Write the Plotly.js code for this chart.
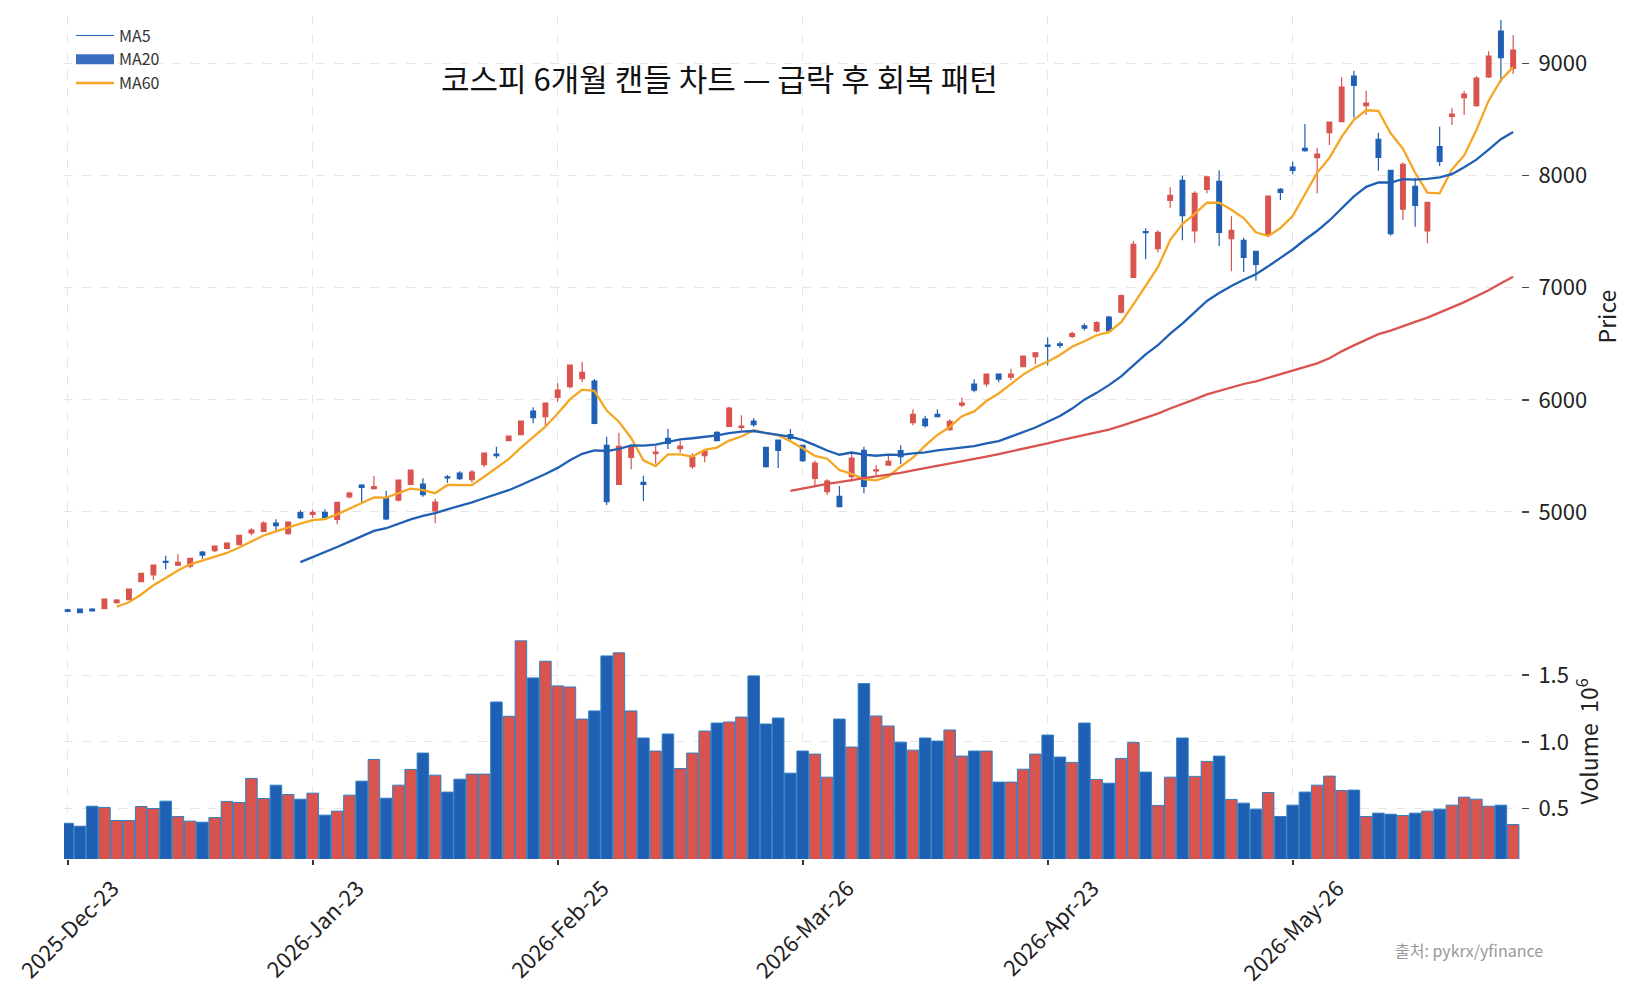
<!DOCTYPE html>
<html><head><meta charset="utf-8">
<script src="https://cdn.plot.ly/plotly-3.0.1.min.js"></script>
<style>html,body{margin:0;padding:0;background:#fff}</style>
</head><body>
<div id="chart" style="width:1632px;height:999px"></div>
<script>
// ---- data ----
const tickIndex = [0, 20, 40, 60, 80, 100];
const tickLabels = ["2025-Dec-23", "2026-Jan-23", "2026-Feb-25", "2026-Mar-26", "2026-Apr-23", "2026-May-26"];

const openP = [4127,4133,4133,4136,4190,4217,4377,4437,4560,4526,
 4517,4642,4654,4675,4707,4812,4827,4901,4806,4993,
 4978,4996,4934,5135,5240,5207,5124,5106,5246,5249,
 5008,5312,5347,5287,5421,5516,5635,5689,5900,5849,
 6022,6117,6188,6168,5594,5246,5487,5264,5519,5656,
 5564,5403,5501,5710,5763,5755,5811,5576,5641,5690,
 5594,5300,5180,5139,5314,5549,5365,5418,5546,5796,
 5829,5871,5733,5953,6141,6141,6230,6203,6295,6384,
 6489,6500,6565,6660,6614,6738,6783,7093,7500,7348,
 7780,7958,7508,7878,7949,7437,7423,7325,7476,7878,
 8077,8243,8160,8383,8481,8888,8624,8324,8047,7700,
 7904,7506,8260,8529,8695,8624,8880,9290,8957];
const highP = [4137,4138,4140,4226,4223,4316,4456,4530,4609,4622,
 4590,4654,4700,4726,4795,4854,4916,4934,4914,5014,
 5019,5023,5090,5180,5246,5320,5189,5288,5378,5300,
 5118,5329,5362,5374,5529,5581,5681,5815,5933,5975,
 6147,6314,6340,6185,5671,5707,5592,5323,5588,5742,
 5635,5523,5547,5719,5936,5862,5838,5580,5645,5740,
 5598,5457,5291,5231,5516,5581,5416,5505,5594,5915,
 5858,5915,5826,6019,6183,6234,6234,6277,6395,6424,
 6558,6520,6610,6680,6700,6750,6940,7417,7530,7512,
 7896,7999,7860,7997,8047,7637,7446,7329,7822,7890,
 8124,8460,8249,8482,8877,8936,8757,8383,8051,8119,
 7981,7766,8436,8600,8755,8889,9109,9388,9254];
const lowP = [4107,4097,4112,4133,4184,4213,4373,4392,4487,4517,
 4497,4582,4642,4666,4703,4791,4818,4818,4796,4937,
 4945,4939,4889,5121,5070,5201,4928,5094,5242,5135,
 4898,5260,5284,5260,5398,5478,5631,5685,5790,5769,
 5983,6102,6156,5781,5061,5240,5380,5097,5430,5561,
 5528,5385,5442,5632,5759,5728,5760,5397,5391,5630,
 5445,5225,5151,5042,5269,5166,5323,5412,5427,5772,
 5754,5845,5724,5933,6067,6117,6156,6177,6291,6319,
 6308,6460,6550,6620,6600,6600,6770,7089,7253,7316,
 7714,7423,7401,7842,7372,7146,7140,7062,7472,7782,
 8012,8213,7842,8273,8477,8517,8541,8044,7464,7604,
 7544,7396,8086,8451,8541,8615,8871,8832,8906];
const closeP = [4113,4101,4118,4223,4214,4312,4452,4526,4550,4550,
 4586,4615,4696,4722,4791,4838,4901,4877,4910,4948,
 4996,4952,5086,5168,5219,5225,4937,5284,5374,5153,
 5088,5303,5296,5356,5525,5501,5677,5811,5840,5971,
 6087,6310,6245,5790,5091,5585,5588,5246,5534,5612,
 5588,5490,5543,5635,5927,5766,5778,5403,5549,5656,
 5457,5436,5275,5046,5481,5228,5376,5451,5492,5871,
 5769,5849,5808,5971,6087,6230,6185,6230,6391,6420,
 6477,6486,6590,6640,6688,6614,6930,7387,7491,7494,
 7824,7642,7842,7988,7494,7512,7271,7209,7818,7851,
 8047,8222,8193,8478,8790,8806,8648,8163,7482,8101,
 7735,7762,8128,8549,8728,8871,9067,9052,9120];
const volume = [389000,367000,517000,508000,410000,410000,515000,500000,555000,440000,
 405000,397000,432000,553000,545000,726000,575000,675000,605000,570000,
 615000,450000,480000,600000,705000,868000,577000,675000,793000,916000,
 750000,623000,720000,758000,758000,1299000,1192000,1758000,1480000,1605000,
 1420000,1412000,1171000,1232000,1645000,1668000,1232000,1029000,931000,1059000,
 800000,916000,1081000,1141000,1149000,1186000,1495000,1134000,1179000,765000,
 931000,908000,735000,1171000,961000,1437000,1194000,1119000,998000,938000,
 1029000,1006000,1089000,893000,931000,931000,698000,698000,795000,908000,
 1051000,886000,846000,1141000,718000,690000,876000,996000,773000,523000,
 735000,1029000,741000,853000,893000,568000,540000,495000,620000,440000,
 525000,623000,675000,743000,635000,638000,440000,465000,457000,447000,
 465000,480000,495000,525000,585000,570000,517000,525000,380000];

const maWindows = [5, 20, 60];
const title = "코스피 6개월 캔들 차트 — 급락 후 회복 패턴";
const sourceText = "출처: pykrx/yfinance";

// ---- styling ----
const UP = '#d9534f', DOWN = '#1f5fb4', ORANGE = '#f5a623';
const FONT = '"Noto Sans CJK KR", "Noto Sans", sans-serif';

const idx = closeP.map((_, i) => i);
function movingAverage(arr, n) {
  return arr.map((_, i) => {
    if (i < n - 1) return null;
    let s = 0;
    for (let k = i - n + 1; k <= i; k++) s += arr[k];
    return s / n;
  });
}
const ma5 = movingAverage(closeP, maWindows[0]);
const ma20 = movingAverage(closeP, maWindows[1]);
const ma60 = movingAverage(closeP, maWindows[2]);
const volColors = closeP.map((c, i) => c >= openP[i] ? UP : DOWN);

const traces = [
  {type: 'candlestick', x: idx, open: openP, high: highP, low: lowP, close: closeP,
   xaxis: 'x', yaxis: 'y', showlegend: false, hoverinfo: 'skip',
   increasing: {line: {color: UP, width: 1.2}, fillcolor: UP},
   decreasing: {line: {color: DOWN, width: 1.2}, fillcolor: DOWN}},
  {type: 'scatter', mode: 'lines', x: idx, y: ma5, xaxis: 'x', yaxis: 'y',
   line: {color: ORANGE, width: 2.3}, showlegend: false, hoverinfo: 'skip'},
  {type: 'scatter', mode: 'lines', x: idx, y: ma20, xaxis: 'x', yaxis: 'y',
   line: {color: DOWN, width: 2.3}, showlegend: false, hoverinfo: 'skip'},
  {type: 'scatter', mode: 'lines', x: idx, y: ma60, xaxis: 'x', yaxis: 'y',
   line: {color: UP, width: 2.3}, showlegend: false, hoverinfo: 'skip'},
  {type: 'bar', x: idx, y: volume, xaxis: 'x', yaxis: 'y2',
   marker: {color: volColors, line: {color: '#2f7fbf', width: 1}},
   showlegend: false, hoverinfo: 'skip'},
  // legend entries
  {type: 'scatter', mode: 'lines', x: [null], y: [null], name: 'MA5',
   line: {color: DOWN, width: 1}, xaxis: 'x', yaxis: 'y'},
  {type: 'scatter', mode: 'lines', x: [null], y: [null], name: 'MA20',
   line: {color: '#3a6fbf', width: 13}, xaxis: 'x', yaxis: 'y'},
  {type: 'scatter', mode: 'lines', x: [null], y: [null], name: 'MA60',
   line: {color: ORANGE, width: 2.5}, xaxis: 'x', yaxis: 'y'}
];

const gridStyle = {showgrid: true, gridcolor: '#e6e6e6', griddash: 'dash', gridwidth: 1};

const layout = {
  width: 1632, height: 999,
  margin: {l: 64, r: 111, t: 16, b: 140},
  paper_bgcolor: '#fff', plot_bgcolor: '#fff',
  font: {family: FONT, color: '#222', size: 18},
  boxgap: 0.45,
  bargap: 0.06,
  showlegend: true,
  legend: {x: 0.0048, y: 0.997, xanchor: 'left', yanchor: 'top',
           bgcolor: 'rgba(0,0,0,0)', font: {size: 16, color: '#333'},
           tracegroupgap: 0, itemwidth: 38},
  xaxis: Object.assign({
    range: [-0.3, 118.64], anchor: 'y2', rangeslider: {visible: false},
    tickmode: 'array', tickvals: tickIndex, ticktext: tickLabels,
    tickangle: -45, ticks: 'outside', ticklen: 5, tickwidth: 2, tickcolor: '#333',
    ticklabelshift: 45, ticklabelstandoff: 2,
    tickfont: {size: 22, color: '#222'}, showline: false, zeroline: false
  }, gridStyle),
  yaxis: Object.assign({
    domain: [0.287, 1], range: [4062, 9424], side: 'right', anchor: 'x',
    tickmode: 'array', tickvals: [5000, 6000, 7000, 8000, 9000],
    ticks: 'outside', ticklen: 7, tickwidth: 1.5, tickcolor: '#444',
    ticklabelstandoff: 5,
    tickfont: {size: 22, color: '#222'}, showline: false, zeroline: false,
    title: {text: 'Price', font: {size: 23, color: '#222'}, standoff: 13}
  }, gridStyle),
  yaxis2: Object.assign({
    domain: [0, 0.279], range: [121000, 1886000], side: 'right', anchor: 'x',
    tickmode: 'array', tickvals: [500000, 1000000, 1500000], ticktext: ['0.5', '1.0', '1.5'],
    ticks: 'outside', ticklen: 7, tickwidth: 1.5, tickcolor: '#444',
    ticklabelstandoff: 5,
    tickfont: {size: 22, color: '#222'}, showline: false, zeroline: false,
    title: {text: 'Volume  10<sup>6</sup>', font: {size: 23, color: '#222'}, standoff: 9}
  }, gridStyle),
  annotations: [
    {text: title, xref: 'paper', yref: 'paper', x: 0.45, y: 0.9265,
     xanchor: 'center', yanchor: 'middle', showarrow: false,
     font: {size: 31, color: '#111', family: FONT}},
    {text: sourceText, xref: 'paper', yref: 'paper', x: 0.964, y: -0.108,
     xanchor: 'center', yanchor: 'middle', showarrow: false,
     font: {size: 16, color: '#999', family: FONT}}
  ]
};

Plotly.newPlot('chart', traces, layout, {displayModeBar: false, staticPlot: true});
</script>
</body></html>
